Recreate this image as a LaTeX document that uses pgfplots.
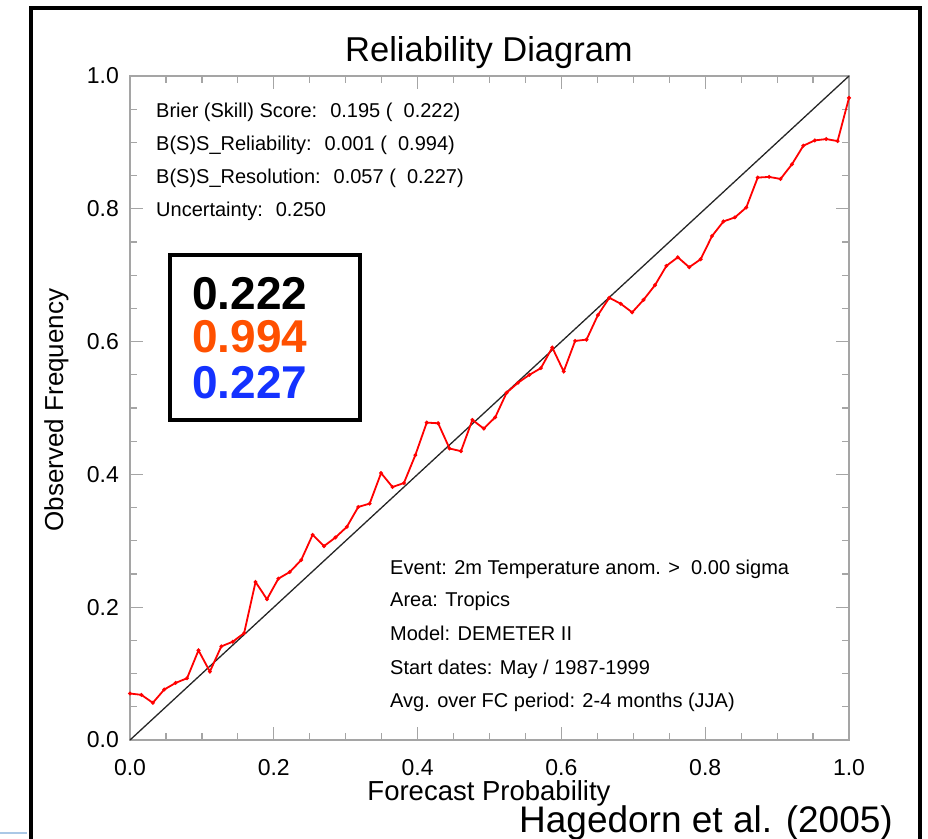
\documentclass[border=0pt]{standalone}
\usepackage{fontspec}
\setmainfont{Liberation Sans}
\usepackage{pgfplots}
\usepackage{pgfplotstable}
\pgfplotsset{compat=1.18}
\definecolor{myorange}{RGB}{255,80,0}
\definecolor{myblue}{RGB}{20,50,255}
\definecolor{axgray}{RGB}{165,165,165}
\definecolor{slideblue}{RGB}{170,200,230}
\pgfplotstableread{
x y
0.00000 0.070
0.01587 0.068
0.03175 0.056
0.04762 0.076
0.06349 0.086
0.07937 0.093
0.09524 0.135
0.11111 0.103
0.12698 0.141
0.14286 0.148
0.15873 0.161
0.17460 0.238
0.19048 0.212
0.20635 0.243
0.22222 0.253
0.23810 0.271
0.25397 0.309
0.26984 0.292
0.28571 0.305
0.30159 0.321
0.31746 0.351
0.33333 0.356
0.34921 0.402
0.36508 0.381
0.38095 0.387
0.39683 0.429
0.41270 0.478
0.42857 0.477
0.44444 0.439
0.46032 0.435
0.47619 0.482
0.49206 0.469
0.50794 0.486
0.52381 0.523
0.53968 0.538
0.55556 0.550
0.57143 0.560
0.58730 0.591
0.60317 0.555
0.61905 0.601
0.63492 0.603
0.65079 0.640
0.66667 0.666
0.68254 0.657
0.69841 0.644
0.71429 0.663
0.73016 0.685
0.74603 0.714
0.76190 0.727
0.77778 0.712
0.79365 0.724
0.80952 0.759
0.82540 0.781
0.84127 0.787
0.85714 0.802
0.87302 0.847
0.88889 0.848
0.90476 0.845
0.92063 0.867
0.93651 0.895
0.95238 0.903
0.96825 0.905
0.98413 0.902
1.00000 0.967
}\reldata
\pgfplotstableread{
x y
0 0
1 1
}\diagdata
\begin{document}
\begin{tikzpicture}[x=1pt,y=1pt]
\useasboundingbox (0,0) rectangle (928,838);
\begin{scope}
\clip (0,0) rectangle (928,838);
\draw[line width=4pt,black] (31,-20) rectangle (920,830);
\draw[line width=1.5pt,slideblue] (0,5) -- (27,5);
\end{scope}
\begin{axis}[
  at={(130pt,98pt)}, anchor=south west,
  scale only axis, width=719pt, height=664pt,
  xmin=0, xmax=1, ymin=0, ymax=1,
  xtick={0,0.2,0.4,0.6,0.8,1.0},
  ytick={0,0.2,0.4,0.6,0.8,1.0},
  minor x tick num=3, minor y tick num=3,
  tick align=inside,
  major tick length=13pt, minor tick length=7pt,
  tick style={axgray, line width=1.2pt},
  minor tick style={axgray, line width=1.2pt},
  axis line style={axgray, line width=1.5pt},
  /pgf/number format/assume math mode=true,
  /pgf/number format/.cd, fixed, fixed zerofill, precision=1, /pgfplots/.cd,
  ticklabel style={font=\fontsize{23}{23}\selectfont, black},
  xticklabel style={anchor=base, yshift=-35pt},
  yticklabel style={anchor=east, inner sep=0pt, xshift=-11pt},
  clip=false,
]
\addplot[line width=1.3pt, black!85, no marks] table[x=x,y=y] {\diagdata};
\addplot[line width=1.8pt, red, mark=*, mark size=0.9pt] table[x=x,y=y] {\reldata};
\end{axis}
% title and labels
\node[anchor=base, font=\fontsize{34.5}{34.5}\selectfont] at (489,776) {Reliability Diagram};
\node[anchor=base, font=\fontsize{27.5}{27.5}\selectfont] at (489,38) {Forecast Probability};
\node[anchor=base, rotate=90, font=\fontsize{26}{26}\selectfont] at (63,428) {Observed Frequency};
\node[anchor=base east, inner sep=0pt, font=\fontsize{37}{37}\selectfont] at (893,6) {Hagedorn et al. (2005)};
% stats text
\begin{scope}[every node/.style={anchor=base west, inner sep=0pt, font=\fontsize{20}{20}\selectfont}]
\node at (156,720) {Brier (Skill) Score:~ 0.195 (~ 0.222)};
\node at (156,687) {B(S)S\_Reliability:~ 0.001 (~ 0.994)};
\node at (156,654) {B(S)S\_Resolution:~ 0.057 (~ 0.227)};
\node at (156,621) {Uncertainty:~ 0.250};
\end{scope}
\begin{scope}[every node/.style={anchor=base west, inner sep=0pt, font=\fontsize{20}{20}\selectfont}]
\node at (390,263) {Event: 2m Temperature anom. >~ 0.00 sigma};
\node at (390,231) {Area: Tropics};
\node at (390,197) {Model: DEMETER II};
\node at (390,164) {Start dates: May / 1987-1999};
\node at (390,131) {Avg. over FC period: 2-4 months (JJA)};
\end{scope}
% highlighted box
\draw[line width=4pt, black] (170,583) rectangle (360,418);
\begin{scope}[every node/.style={anchor=base west, inner sep=0pt, font=\fontsize{46}{46}\selectfont\bfseries}]
\node at (192,528) {0.222};
\node[text=myorange] at (192,485) {0.994};
\node[text=myblue] at (192,439) {0.227};
\end{scope}
\end{tikzpicture}
\end{document}
